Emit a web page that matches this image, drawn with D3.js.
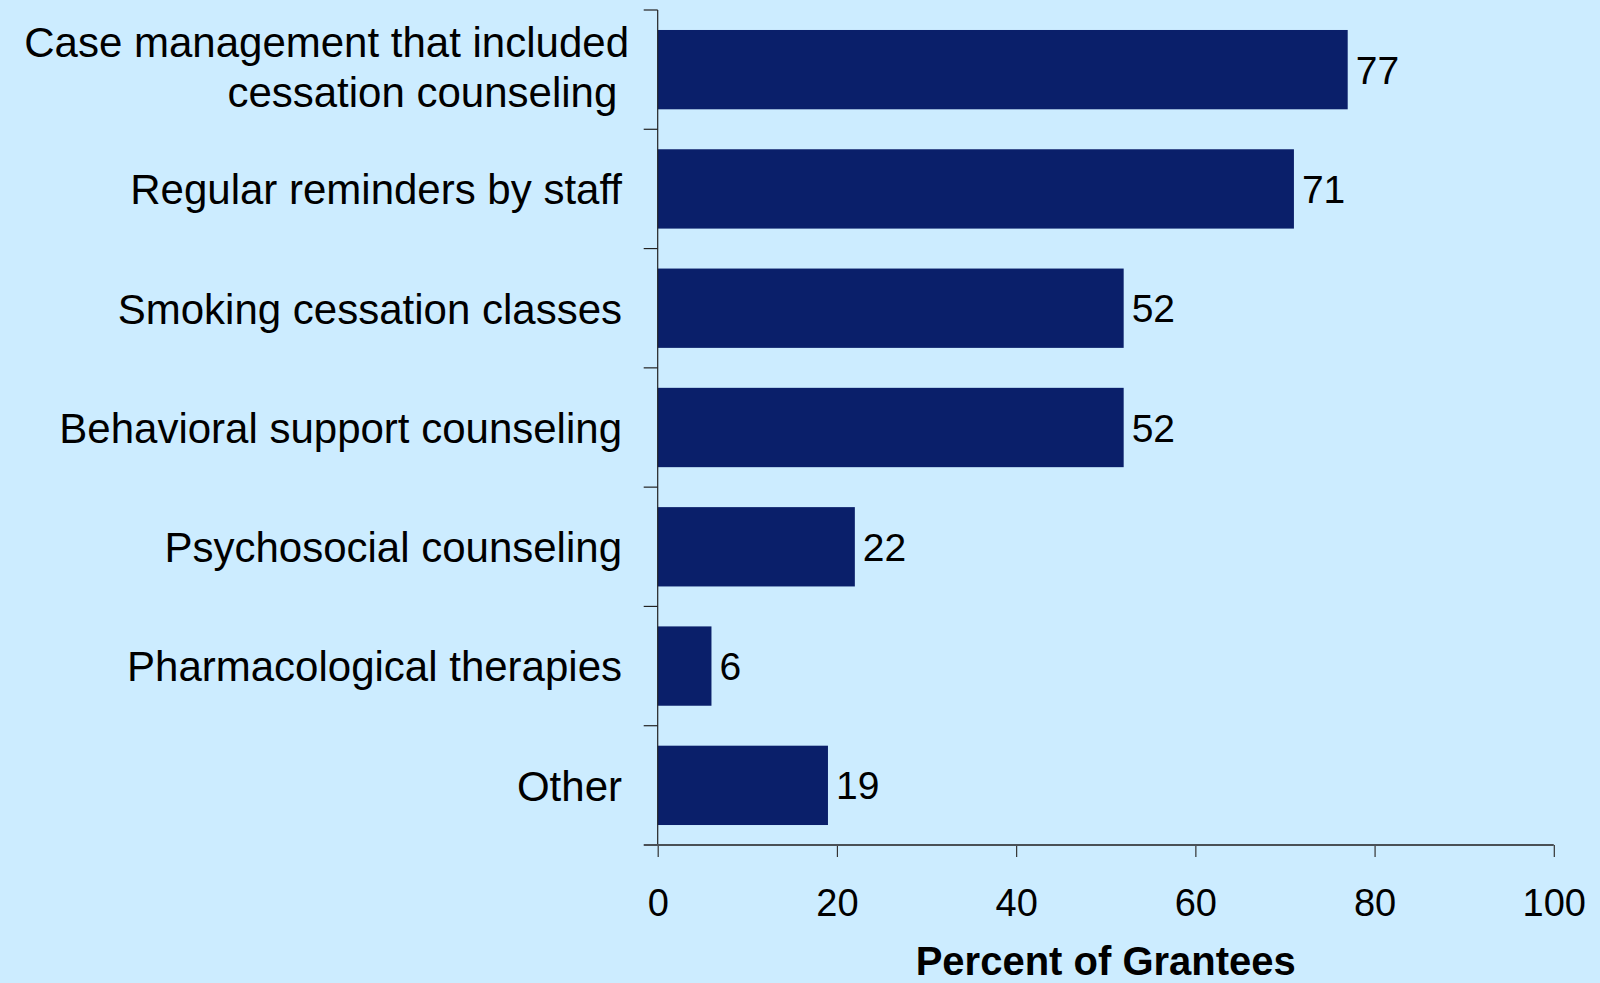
<!DOCTYPE html>
<html>
<head>
<meta charset="utf-8">
<script src="https://cdn.jsdelivr.net/npm/d3@7"></script>
<style>
  html, body { margin: 0; padding: 0; background: #CCECFF; }
  svg { display: block; }
  text { font-family: "Liberation Sans", Arial, sans-serif; fill: #000; }
</style>
</head>
<body>
<script>
const categories = [
  ["Case management that included", "cessation counseling "],
  ["Regular reminders by staff"],
  ["Smoking cessation classes"],
  ["Behavioral support counseling"],
  ["Psychosocial counseling"],
  ["Pharmacological therapies"],
  ["Other"]
];
const values = [77, 71, 52, 52, 22, 6, 19];
const xTicks = [0, 20, 40, 60, 80, 100];
const xTitle = "Percent of Grantees";

(function () {
const W = 1600, H = 983;
const svg = d3.select("body").append("svg").attr("width", W).attr("height", H);
svg.append("rect").attr("width", W).attr("height", H).attr("fill", "#CCECFF");

const pLeft = 657.7, pRight = 1553.8, pTop = 10, pBottom = 845;
const x = d3.scaleLinear().domain([0, 100]).range([pLeft, pRight]);
const idx = d3.range(categories.length);
const y = d3.scaleBand().domain(idx).range([pTop, pBottom])
  .paddingInner(0.335).paddingOuter(0.335 / 2);

// bars
svg.append("g").selectAll("rect").data(values).join("rect")
  .attr("x", x(0))
  .attr("y", (d, i) => y(i))
  .attr("width", d => x(d) - x(0))
  .attr("height", y.bandwidth())
  .attr("fill", "#0A1F6A");

// value labels
svg.append("g").selectAll("text").data(values).join("text")
  .attr("x", d => x(d) + 8)
  .attr("y", (d, i) => y(i) + y.bandwidth() / 2)
  .attr("dy", "0.36em")
  .style("font-size", "39px")
  .text(d => d);

// category axis line + ticks at band boundaries
const bounds = d3.range(categories.length + 1).map(i => pTop + i * y.step());
svg.append("line").attr("x1", x(0)).attr("x2", x(0)).attr("y1", pTop).attr("y2", pBottom)
  .attr("stroke", "#222").attr("stroke-width", 1.2);
svg.append("g").selectAll("line").data(bounds.slice(0, -1)).join("line")
  .attr("x1", x(0) - 14).attr("x2", x(0)).attr("y1", d => d).attr("y2", d => d)
  .attr("stroke", "#222").attr("stroke-width", 1.2);

// category labels
const cl = svg.append("g");
categories.forEach((lines, i) => {
  const c = y(i) + y.bandwidth() / 2;
  const t = cl.append("text").attr("text-anchor", "end").style("font-size", "42px")
    .style("white-space", "pre");
  if (lines.length === 1) {
    t.append("tspan").attr("x", 622).attr("y", c).attr("dy", "0.366em").text(lines[0]);
  } else {
    t.append("tspan").attr("x", 629).attr("y", c - 12.5).text(lines[0]);
    t.append("tspan").attr("x", 629).attr("y", c + 37).text(lines[1]);
  }
});

// x axis
const xa = svg.append("g").attr("transform", `translate(0,${pBottom})`)
  .call(d3.axisBottom(x).tickValues(xTicks).tickSize(12).tickPadding(31.7).tickFormat(d3.format("d")));
xa.select(".domain").remove();
xa.selectAll(".tick line").attr("stroke", "#333").attr("stroke-width", 1.2);
xa.selectAll(".tick text").style("font-size", "38px").style("font-family", "'Liberation Sans', Arial, sans-serif").attr("fill", "#000");
svg.append("line").attr("x1", x(0) - 14).attr("x2", x(100)).attr("y1", pBottom).attr("y2", pBottom)
  .attr("stroke", "#4A5056").attr("stroke-width", 2.2);

// axis title
svg.append("text").attr("x", (x(0) + x(100)) / 2).attr("y", 975)
  .attr("text-anchor", "middle").style("font-size", "40px").style("font-weight", "bold")
  .text(xTitle);
})();
</script>
</body>
</html>
